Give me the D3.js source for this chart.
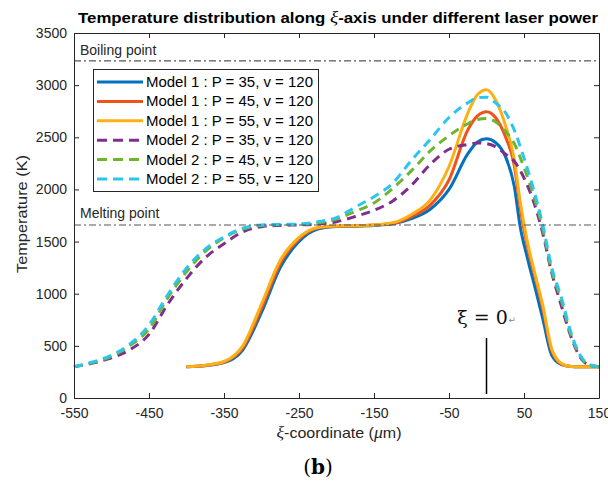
<!DOCTYPE html>
<html><head><meta charset="utf-8">
<script src="https://cdn.jsdelivr.net/npm/d3@7"></script>
<style>body{margin:0;background:#fff}</style>
</head><body><svg id="c" width="608" height="483" xmlns="http://www.w3.org/2000/svg"></svg>
<script>
// ---- data ----
const xTicks = [-550,-450,-350,-250,-150,-50,50,150];
const yTicks = [0,500,1000,1500,2000,2500,3000,3500];
const boilingPoint = 3232;
const meltingPoint = 1659;

const xModel1 = [-400,-375,-350,-325,-300,-275,-250,-225,-200,-175,-150,-125,-100,-75,-50,-25,-12,0,12,25,37,45,55,65,75,87,100,110,125,150];
const m1P35 = [300,310,340,460,820,1250,1500,1620,1645,1648,1655,1670,1720,1810,2000,2340,2455,2485,2450,2320,2030,1640,1330,1050,760,410,320,305,300,300];
const m1P45 = [300,312,345,480,860,1290,1525,1630,1648,1650,1658,1675,1740,1850,2090,2570,2705,2745,2690,2510,2230,1820,1440,1150,860,450,325,305,300,300];
const m1P55 = [300,315,350,500,900,1320,1540,1635,1650,1652,1660,1680,1760,1900,2220,2730,2910,2955,2860,2620,2290,1880,1480,1180,890,470,330,305,300,300];

const xModel2 = [-550,-525,-500,-475,-450,-425,-400,-375,-350,-325,-300,-275,-250,-225,-200,-175,-150,-125,-100,-75,-50,-25,-12,0,12,25,37,50,62,75,87,100,112,125,137,150];
const m2P35 = [300,335,385,465,610,900,1145,1345,1480,1593,1643,1655,1660,1668,1690,1740,1800,1890,2040,2240,2385,2430,2445,2440,2410,2340,2270,2110,1900,1580,1200,880,600,390,315,300];
const m2P45 = [300,340,400,505,660,960,1210,1405,1535,1620,1655,1662,1665,1680,1715,1790,1870,2010,2180,2370,2515,2630,2670,2680,2650,2560,2440,2210,1960,1620,1220,930,620,400,315,300];
const m2P55 = [300,345,410,520,700,990,1245,1428,1545,1628,1660,1665,1668,1690,1730,1830,1930,2060,2280,2480,2690,2830,2880,2885,2830,2740,2570,2300,2020,1660,1250,960,640,410,320,300];

const seriesNames = ["Model 1 : P = 35, v = 120","Model 1 : P = 45, v = 120","Model 1 : P = 55, v = 120",
                     "Model 2 : P = 35, v = 120","Model 2 : P = 45, v = 120","Model 2 : P = 55, v = 120"];
const seriesColors = ["#0072BD","#F0521A","#FDB015","#7E2F8E","#6DB52E","#2CC4F0"];

const series = [
  {name: seriesNames[0], x: xModel1, y: m1P35, color: seriesColors[0], dash: null},
  {name: seriesNames[1], x: xModel1, y: m1P45, color: seriesColors[1], dash: null},
  {name: seriesNames[2], x: xModel1, y: m1P55, color: seriesColors[2], dash: null},
  {name: seriesNames[3], x: xModel2, y: m2P35, color: seriesColors[3], dash: "9,6"},
  {name: seriesNames[4], x: xModel2, y: m2P45, color: seriesColors[4], dash: "9,6"},
  {name: seriesNames[5], x: xModel2, y: m2P55, color: seriesColors[5], dash: "9,6"}
];

// ---- layout ----
const L = 74, R = 599, T = 33, B = 398;
const svg = d3.select("#c");
const x = d3.scaleLinear().domain([-550,150]).range([L,R]);
const y = d3.scaleLinear().domain([0,3500]).range([B,T]);
const axisColor = "#262626";
const font = "'Liberation Sans', Arial, Helvetica, sans-serif";

// lines
const line = d3.line().x(d=>x(d[0])).y(d=>y(d[1])).curve(d3.curveMonotoneX);
const gLines = svg.append("g");
series.forEach(s=>{
  gLines.append("path")
    .datum(s.x.map((v,i)=>[v,s.y[i]]))
    .attr("d", line)
    .attr("fill","none")
    .attr("stroke", s.color)
    .attr("stroke-width", 3)
    .attr("stroke-dasharray", s.dash)
    .attr("stroke-linejoin","round");
});

// reference lines
[[boilingPoint,"Boiling point",6],[meltingPoint,"Melting point",7]].forEach(([v,lab,off])=>{
  svg.append("line").attr("x1",L).attr("x2",R).attr("y1",y(v)).attr("y2",y(v))
    .attr("stroke","#555").attr("stroke-width",1.2).attr("stroke-dasharray","7,3,2,3");
  svg.append("text").attr("x",L+6).attr("y",y(v)-off).text(lab)
    .attr("font-family",font).attr("font-size",14).attr("fill","#262626");
});

// axes
const fmt = d => String(d);
const xAxisB = d3.axisBottom(x).tickValues(xTicks).tickSizeInner(-5).tickSizeOuter(0).tickPadding(10).tickFormat(fmt);
const xAxisT = d3.axisTop(x).tickValues(xTicks).tickSizeInner(-5).tickSizeOuter(0).tickFormat("");
const yAxisL = d3.axisLeft(y).tickValues(yTicks).tickSizeInner(-5).tickSizeOuter(0).tickPadding(7).tickFormat(fmt);
const yAxisR = d3.axisRight(y).tickValues(yTicks).tickSizeInner(-5).tickSizeOuter(0).tickFormat("");
function style(g){
  g.selectAll("path").attr("stroke",axisColor).attr("stroke-width",1);
  g.selectAll("line").attr("stroke",axisColor).attr("stroke-width",1);
  g.selectAll("text").attr("font-family",font).attr("font-size",14).attr("fill","#262626");
}
svg.append("g").attr("transform",`translate(0,${B})`).call(xAxisB).call(style);
svg.append("g").attr("transform",`translate(0,${T})`).call(xAxisT).call(style);
svg.append("g").attr("transform",`translate(${L},0)`).call(yAxisL).call(style);
svg.append("g").attr("transform",`translate(${R},0)`).call(yAxisR).call(style);

// title
const title = svg.append("text").attr("x",338).attr("y",23).attr("text-anchor","middle")
  .attr("font-family",font).attr("font-size",15).attr("font-weight","bold").attr("fill","#000")
  .attr("textLength",520).attr("lengthAdjust","spacingAndGlyphs");
title.append("tspan").text("Temperature distribution along ");
title.append("tspan").text("ξ").attr("font-style","italic").attr("font-family","'Liberation Serif', serif").attr("font-weight","normal").attr("font-size",17);
title.append("tspan").text("-axis under different laser power");

// y label
svg.append("text").attr("transform",`translate(27,214) rotate(-90)`).attr("text-anchor","middle")
  .attr("font-family",font).attr("font-size",14.5).attr("fill","#262626")
  .attr("textLength",118).attr("lengthAdjust","spacingAndGlyphs").text("Temperature (K)");

// x label
const xl = svg.append("text").attr("x",339).attr("y",438).attr("text-anchor","middle")
  .attr("font-family",font).attr("font-size",14.5).attr("fill","#262626")
  .attr("textLength",125).attr("lengthAdjust","spacingAndGlyphs");
xl.append("tspan").text("ξ").attr("font-style","italic").attr("font-family","'Liberation Serif', serif").attr("font-size",16);
xl.append("tspan").text("-coordinate (");
xl.append("tspan").text("μ").attr("font-style","italic").attr("font-family","'Liberation Serif', serif").attr("font-size",16);
xl.append("tspan").text("m)");

// (b)
const bl = svg.append("text").attr("x",318).attr("y",474).attr("text-anchor","middle")
  .attr("font-family","'DejaVu Serif', 'Liberation Serif', serif").attr("font-size",20).attr("fill","#000");
bl.append("tspan").text("(");
bl.append("tspan").text("b").attr("font-weight","bold");
bl.append("tspan").text(")");

// ξ = 0 annotation
svg.append("line").attr("x1",x(0)).attr("x2",x(0)).attr("y1",338).attr("y2",394).attr("stroke","#000").attr("stroke-width",1.5);
const an = svg.append("text").attr("x",x(0)-4).attr("y",324).attr("text-anchor","middle")
  .attr("font-family","'DejaVu Serif', 'Liberation Serif', serif").attr("font-size",19).attr("fill","#111");
an.append("tspan").text("ξ = 0");
svg.append("text").attr("x",x(0)+22).attr("y",323).attr("font-family","'DejaVu Sans', sans-serif").attr("font-size",9).attr("fill","#888").text("↵");

// legend
const lg = svg.append("g");
lg.append("rect").attr("x",93.5).attr("y",69.5).attr("width",225).attr("height",122)
  .attr("fill","#fff").attr("stroke","#262626").attr("stroke-width",1);
series.forEach((s,i)=>{
  const yy = 82 + i*19.4;
  lg.append("line").attr("x1",97).attr("x2",143).attr("y1",yy).attr("y2",yy)
    .attr("stroke",s.color).attr("stroke-width",3).attr("stroke-dasharray", s.dash ? "10,6" : null);
  lg.append("text").attr("x",146).attr("y",yy+5).text(s.name)
    .attr("font-family",font).attr("font-size",14).attr("fill","#000")
    .attr("textLength",167).attr("lengthAdjust","spacingAndGlyphs");
});
</script>
</body></html>
